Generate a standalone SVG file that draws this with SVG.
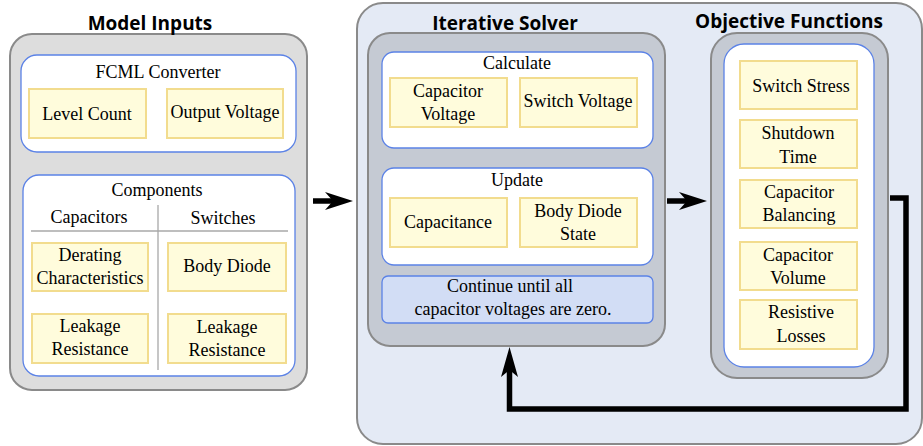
<svg xmlns="http://www.w3.org/2000/svg" width="923" height="446" viewBox="0 0 923 446" font-family="'Liberation Serif', 'Times New Roman', serif">
<style>
.title{font-weight:700;font-size:19px;fill:#000;text-anchor:middle}
.t{font-size:18px;fill:#000;text-anchor:middle}
.outer{fill:#dddddd;stroke:#8a8a8a;stroke-width:2}
.big{fill:#e4eaf5;stroke:#8a8a8a;stroke-width:2}
.gray{fill:#c5cad3;stroke:#8a8a8a;stroke-width:2}
.white{fill:#ffffff;stroke:#5b82e6;stroke-width:1.3}
.item{fill:#fffcdc;stroke:#f2dc8e;stroke-width:2}
.note{fill:#d2ddf5;stroke:#5b82e6;stroke-width:1.3}
.sep{stroke:#a8a8a8;stroke-width:1.3;fill:none}
.wire{stroke:#000;stroke-width:5.5;fill:none}
</style>

<g id="model-inputs">
<rect class="outer" x="10" y="34" width="297" height="356" rx="22"/>
<text class="title" font-family="'Open Sans', 'Noto Sans', sans-serif" x="150" y="30">Model Inputs</text>
</g>

<g id="fcml-converter">
<rect class="white" x="21" y="55" width="275" height="97" rx="16"/>
<text class="t" x="158" y="78">FCML Converter</text>
</g>
<g id="level-count">
<rect class="item" x="29" y="89" width="117" height="49"/>
<text class="t" x="87" y="120">Level Count</text>
</g>
<g id="output-voltage">
<rect class="item" x="167" y="89" width="116" height="49"/>
<text class="t" x="225" y="118">Output Voltage</text>
</g>

<g id="components">
<rect class="white" x="23" y="175" width="272" height="201" rx="16"/>
<text class="t" x="157" y="196">Components</text>
<text class="t" x="89" y="223">Capacitors</text>
<text class="t" x="223" y="224">Switches</text>
<line class="sep" x1="31" y1="231" x2="288" y2="231"/>
<line class="sep" x1="158" y1="205" x2="158" y2="370"/>
</g>
<g id="derating">
<rect class="item" x="32" y="243" width="116" height="48"/>
<text class="t" x="90" y="261">Derating</text>
<text class="t" x="90" y="284">Characteristics</text>
</g>
<g id="body-diode">
<rect class="item" x="168" y="243" width="118" height="48"/>
<text class="t" x="227" y="272">Body Diode</text>
</g>
<g id="cap-leakage">
<rect class="item" x="32" y="314" width="116" height="49"/>
<text class="t" x="90" y="332">Leakage</text>
<text class="t" x="90" y="355">Resistance</text>
</g>
<g id="sw-leakage">
<rect class="item" x="168" y="314" width="118" height="49"/>
<text class="t" x="227" y="333">Leakage</text>
<text class="t" x="227" y="356">Resistance</text>
</g>

<g id="solver-panel">
<rect class="big" x="357" y="3" width="565" height="441" rx="26"/>
</g>

<g id="iterative-solver">
<rect class="gray" x="368" y="33" width="297" height="313" rx="22"/>
<text class="title" font-family="'Open Sans', 'Noto Sans', sans-serif" x="505" y="30">Iterative Solver</text>
</g>
<g id="calculate">
<rect class="white" x="382" y="52" width="271" height="96" rx="12"/>
<text class="t" x="517" y="69">Calculate</text>
</g>
<g id="capacitor-voltage">
<rect class="item" x="390" y="78" width="117" height="49"/>
<text class="t" x="448" y="97">Capacitor</text>
<text class="t" x="448" y="120">Voltage</text>
</g>
<g id="switch-voltage">
<rect class="item" x="520" y="78" width="117" height="49"/>
<text class="t" x="578" y="107">Switch Voltage</text>
</g>
<g id="update">
<rect class="white" x="382" y="168" width="271" height="97" rx="12"/>
<text class="t" x="517" y="186">Update</text>
</g>
<g id="capacitance">
<rect class="item" x="390" y="198" width="117" height="49"/>
<text class="t" x="448" y="228">Capacitance</text>
</g>
<g id="body-diode-state">
<rect class="item" x="520" y="198" width="117" height="49"/>
<text class="t" x="578" y="217">Body Diode</text>
<text class="t" x="578" y="240">State</text>
</g>
<g id="continue">
<rect class="note" x="382" y="276" width="271" height="47" rx="6"/>
<text class="t" x="510" y="292">Continue until all</text>
<text class="t" x="513" y="315">capacitor voltages are zero.</text>
</g>

<g id="objective-functions">
<rect class="gray" x="711" y="33" width="177" height="345" rx="26"/>
<rect class="white" x="724" y="44" width="150" height="323" rx="20"/>
<text class="title" font-family="'Open Sans', 'Noto Sans', sans-serif" x="789" y="28">Objective Functions</text>
</g>
<g id="switch-stress">
<rect class="item" x="740" y="61" width="117" height="48"/>
<text class="t" x="801" y="92">Switch Stress</text>
</g>
<g id="shutdown-time">
<rect class="item" x="740" y="120" width="117" height="48"/>
<text class="t" x="798" y="139">Shutdown</text>
<text class="t" x="798" y="163">Time</text>
</g>
<g id="capacitor-balancing">
<rect class="item" x="740" y="180" width="117" height="48"/>
<text class="t" x="799" y="198">Capacitor</text>
<text class="t" x="799" y="221">Balancing</text>
</g>
<g id="capacitor-volume">
<rect class="item" x="740" y="242" width="117" height="48"/>
<text class="t" x="798" y="261">Capacitor</text>
<text class="t" x="798" y="284">Volume</text>
</g>
<g id="resistive-losses">
<rect class="item" x="740" y="300" width="117" height="49"/>
<text class="t" x="801" y="318">Resistive</text>
<text class="t" x="801" y="342">Losses</text>
</g>

<g id="connectors">
<line class="wire" x1="313" y1="201" x2="338" y2="201"/>
<path d="M353,201 L325,192 L333,201 L325,210 Z" fill="#000"/>
<line class="wire" x1="667" y1="201" x2="692" y2="201"/>
<path d="M707,201 L679,192 L687,201 L679,210 Z" fill="#000"/>
<polyline class="wire" points="890,198 906,198 906,409 509.5,409 509.5,368"/>
<path d="M509.5,347 L501,377 L509.5,370 L518,377 Z" fill="#000"/>
</g>
</svg>
